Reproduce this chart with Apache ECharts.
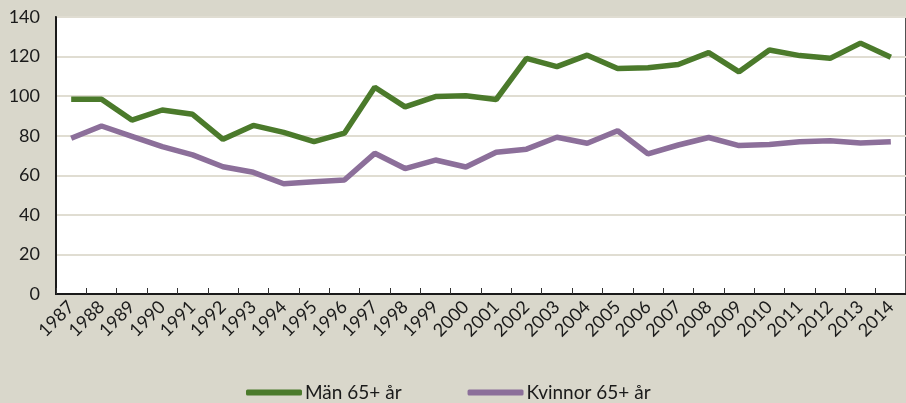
<!DOCTYPE html>
<html>
<head>
<meta charset="utf-8">
<script src="https://cdn.jsdelivr.net/npm/echarts@6/dist/echarts.min.js"></script>
<style>
html,body{margin:0;padding:0;background:#d9d7cb;}
#c{width:906px;height:403px;}
</style>
</head>
<body>
<div id="c"></div>
<script>
var years = ['1987','1988','1989','1990','1991','1992','1993','1994','1995','1996','1997','1998','1999','2000','2001','2002','2003','2004','2005','2006','2007','2008','2009','2010','2011','2012','2013','2014'];
var man = [98.4,98.4,87.9,93,90.8,78.2,85.2,81.7,77,81.3,104.5,94.6,99.8,100.2,98.3,119.1,114.9,120.7,114,114.4,116,122,112.3,123.3,120.5,119.1,126.8,119.6];
var kvinnor = [78.7,84.9,79.7,74.5,70.3,64.3,61.5,55.7,56.7,57.6,71.1,63.4,67.7,64.2,71.6,73.2,79.2,76.2,82.5,70.8,75.3,79.1,75,75.6,77,77.5,76.3,77];
var yTicks = {min:0, max:140, interval:20};
var names = ['Män 65+ år','Kvinnor 65+ år'];

var font = 'Lato, "Open Sans", sans-serif';
var chart = echarts.init(document.getElementById('c'));
chart.setOption({
  backgroundColor:'#d9d7cb',
  animation:false,
  textStyle:{fontFamily:font},
  grid:{left:56, top:17, width:859, height:277, show:true, backgroundColor:'#ffffff', borderColor:'#1a1a1a', borderWidth:1.5},
  legend:{
    left:241, top:378,
    data:names,
    itemWidth:56, itemHeight:6, itemGap:66,
    icon:'roundRect',
    textStyle:{fontFamily:font, fontSize:19, color:'#1a1a1a', padding:[0,0,0,-2]}
  },
  xAxis:{
    type:'category', data:years, boundaryGap:true,
    axisLine:{lineStyle:{color:'#1a1a1a', width:2}},
    axisTick:{show:true, inside:true, length:6, lineStyle:{color:'#333'}},
    axisLabel:{rotate:45, fontSize:18, color:'#1a1a1a', margin:10, interval:0, fontFamily:font}
  },
  yAxis:{
    type:'value', min:yTicks.min, max:yTicks.max, interval:yTicks.interval,
    axisLine:{show:true, lineStyle:{color:'#1a1a1a', width:2}},
    axisTick:{show:false},
    axisLabel:{fontSize:18, color:'#1a1a1a', margin:16, fontFamily:font},
    splitLine:{lineStyle:{color:'#e0ddd2', width:2}}
  },
  series:[
    {name:names[0], type:'line', data:man, symbol:'none', lineStyle:{width:5.5, color:'#4b7a2b'}, itemStyle:{color:'#4b7a2b'}},
    {name:names[1], type:'line', data:kvinnor, symbol:'none', lineStyle:{width:5.5, color:'#8c6f9a'}, itemStyle:{color:'#8c6f9a'}}
  ]
});
</script>
</body>
</html>
